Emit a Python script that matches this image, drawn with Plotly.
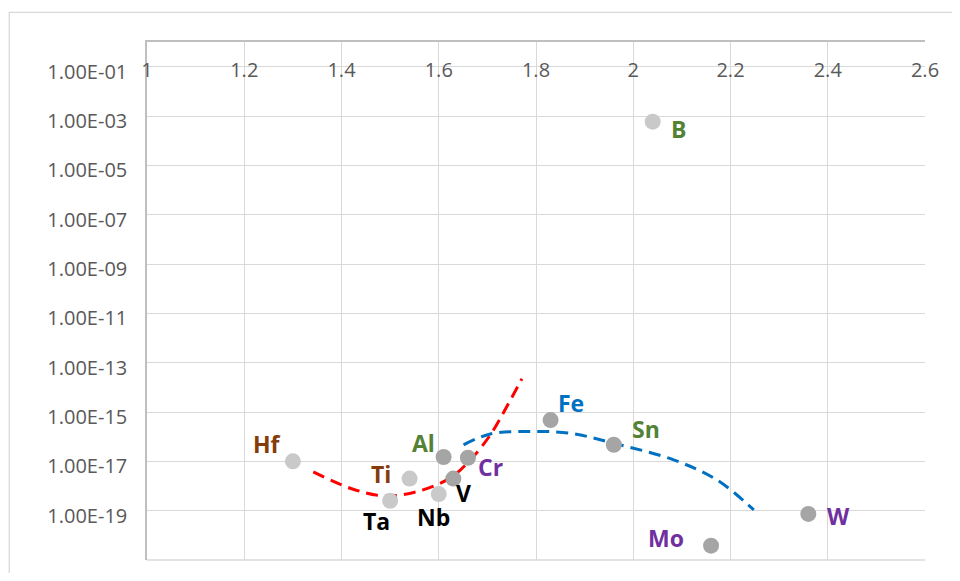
import math
import plotly.graph_objects as go

# ---- data ----
elements = ["Hf", "Ti", "Ta", "Nb", "Al", "V", "Cr", "Fe", "Sn", "Mo", "W", "B"]
x_vals = [1.30, 1.54, 1.50, 1.60, 1.61, 1.63, 1.66, 1.83, 1.96, 2.16, 2.36, 2.04]
y_vals = [1.0e-17, 2.0e-18, 2.5e-19, 4.7e-19, 1.5e-17, 2.0e-18, 1.4e-17,
          4.7e-16, 4.7e-17, 3.8e-21, 7.4e-20, 5.9e-4]
group = ["light", "light", "light", "light", "dark", "dark", "dark",
         "dark", "dark", "dark", "dark", "light"]

# dashed trend curves
red_x = [1.342, 1.418, 1.486, 1.555, 1.623, 1.665, 1.706, 1.740, 1.771]
red_y = [10**-17.43, 10**-18.09, 10**-18.40, 10**-18.23, 10**-17.68,
         10**-16.94, 10**-15.93, 10**-14.78, 10**-13.65]
blue_x = [1.651, 1.706, 1.788, 1.870, 1.958, 2.083, 2.172, 2.248]
blue_y = [10**-16.33, 10**-15.89, 10**-15.79, 10**-15.86, 10**-16.26,
          10**-16.94, 10**-17.75, 10**-18.97]

x_ticks = [1, 1.2, 1.4, 1.6, 1.8, 2, 2.2, 2.4, 2.6]
x_ticktext = ["1", "1.2", "1.4", "1.6", "1.8", "2", "2.2", "2.4", "2.6"]
y_exps = [-21, -19, -17, -15, -13, -11, -9, -7, -5, -3, -1]
y_ticktext = ["1.00E-%02d" % (-e) for e in y_exps]

# ---- styles ----
marker_colors = {"light": "#C9C9C9", "dark": "#A5A5A5"}
label_colors = {"Hf": "#843C0C", "Ti": "#843C0C", "Ta": "#000000", "Nb": "#000000",
                "V": "#000000", "Al": "#548235", "Sn": "#548235", "B": "#548235",
                "Cr": "#7030A0", "Mo": "#7030A0", "W": "#7030A0", "Fe": "#0070C0"}
label_shift = {"Hf": (-26, 17), "Ti": (-29, 5), "Ta": (-14, -20), "Nb": (-5, -23),
               "V": (10, -14), "Al": (-20, 14), "Cr": (23, -9), "Fe": (20, 17),
               "Sn": (32, 16), "Mo": (-45, 8), "W": (30, -2), "B": (26, -7)}

FONT = "Open Sans, sans-serif"

fig = go.Figure()

fig.add_trace(go.Scatter(x=red_x, y=red_y, mode="lines", line_shape="spline",
                         line=dict(color="#FF0000", width=3, dash="12px,7px"),
                         hoverinfo="skip", showlegend=False))
fig.add_trace(go.Scatter(x=blue_x, y=blue_y, mode="lines", line_shape="spline",
                         line=dict(color="#0070C0", width=3, dash="12px,7px"),
                         hoverinfo="skip", showlegend=False))

fig.add_trace(go.Scatter(
    x=x_vals, y=y_vals, mode="markers",
    marker=dict(size=16, color=[marker_colors[g] for g in group], line=dict(width=0)),
    text=elements, showlegend=False))

for el, xv, yv in zip(elements, x_vals, y_vals):
    dx, dy = label_shift[el]
    fig.add_annotation(x=xv, y=math.log10(yv), text="<b>%s</b>" % el, showarrow=False,
                       xshift=dx, yshift=dy,
                       font=dict(family=FONT, size=23, color=label_colors[el]))

# chart-area border
fig.add_shape(type="rect", xref="paper", yref="paper", x0=-0.177, x1=1.06,
              y0=-0.08, y1=1.057, line=dict(color="#D9D9D9", width=1.3),
              fillcolor="rgba(0,0,0,0)", layer="below")
# bottom edge of plot area (same style as gridlines)
fig.add_shape(type="line", xref="paper", yref="paper", x0=0, x1=1, y0=0, y1=0,
              line=dict(color="#D9D9D9", width=1.5), layer="below")

fig.update_layout(
    width=944, height=565,
    margin=dict(l=139, r=27, t=34, b=13),
    paper_bgcolor="white", plot_bgcolor="white",
    font=dict(family=FONT, color="#595959", size=20),
    xaxis=dict(range=[1, 2.6], side="top", tickvals=x_ticks, ticktext=x_ticktext,
               ticklabelposition="inside", ticklabeloverflow="allow",
               ticklabelstandoff=22,
               showgrid=True, gridcolor="#D9D9D9", gridwidth=1.3,
               showline=True, linecolor="#BFBFBF", linewidth=1.5,
               zeroline=False, ticks="",
               tickfont=dict(size=20, color="#595959", family=FONT)),
    yaxis=dict(type="log", range=[-21, 0],
               tickvals=[10**e for e in y_exps], ticktext=y_ticktext,
               ticklabelshift=5,
               showgrid=True, gridcolor="#D9D9D9", gridwidth=1.3,
               showline=True, linecolor="#BFBFBF", linewidth=1.5,
               zeroline=False, ticks="", ticklabelstandoff=14,
               tickfont=dict(size=20, color="#595959", family=FONT)),
)

fig.write_html("out.html")
